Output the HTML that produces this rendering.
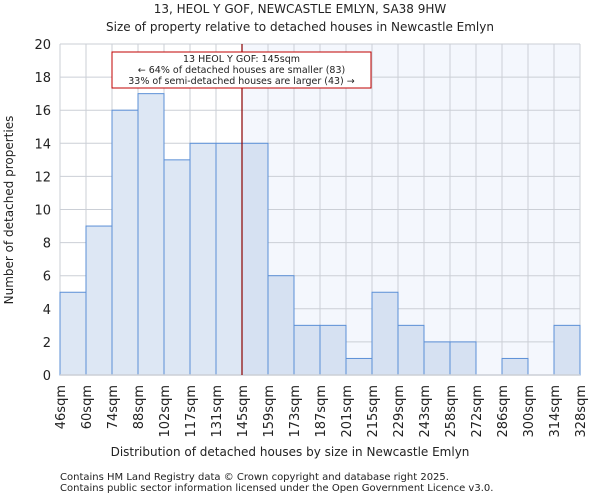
<!DOCTYPE html>
<html><head><meta charset="utf-8"><style>
body{margin:0;background:#fff;font-family:"DejaVu Sans","Liberation Sans",sans-serif;}
svg text{font-family:"DejaVu Sans","Liberation Sans",sans-serif;fill:#222;}
</style></head><body>
<svg id="chart" width="600" height="500" xmlns="http://www.w3.org/2000/svg">
<text x="300" y="13" text-anchor="middle" font-size="12">13, HEOL Y GOF, NEWCASTLE EMLYN, SA38 9HW</text>
<text x="300" y="31" text-anchor="middle" font-size="12">Size of property relative to detached houses in Newcastle Emlyn</text>
<g id="plot"></g>
<text x="290" y="456" text-anchor="middle" font-size="12">Distribution of detached houses by size in Newcastle Emlyn</text>
<text transform="translate(13,210) rotate(-90)" text-anchor="middle" font-size="12">Number of detached properties</text>
<text x="60" y="480" font-size="10" fill="#444">Contains HM Land Registry data © Crown copyright and database right 2025.</text>
<text x="60" y="491" font-size="10" fill="#444">Contains public sector information licensed under the Open Government Licence v3.0.</text>
</svg>
<script>
const categories=["46sqm","60sqm","74sqm","88sqm","102sqm","117sqm","131sqm","145sqm","159sqm","173sqm","187sqm","201sqm","215sqm","229sqm","243sqm","258sqm","272sqm","286sqm","300sqm","314sqm","328sqm"];
const counts=[5,9,16,17,13,14,14,14,6,3,3,1,5,3,2,2,0,1,0,3];
const yTicks=[0,2,4,6,8,10,12,14,16,18,20];
const markerIndex=7;
const annotationLines=["13 HEOL Y GOF: 145sqm","← 64% of detached houses are smaller (83)","33% of semi-detached houses are larger (43) →"];
const L=60,R=580,T=44,B=375,yMax=20;
const nb=counts.length;
const x=i=>L+(R-L)*i/nb;
const y=v=>B-(B-T)*v/yMax;
const g=document.getElementById('plot');
const NS="http://www.w3.org/2000/svg";
function mk(t,a){const e=document.createElementNS(NS,t);for(const k in a)e.setAttribute(k,a[k]);g.appendChild(e);return e;}
let e=mk('rect',{x:x(markerIndex),y:T,width:R-x(markerIndex),height:B-T,fill:'#f4f7fd'});


yTicks.forEach(v=>{
 let l=mk('line',{x1:L,x2:R,y1:y(v),y2:y(v),stroke:'#cbcfd6','stroke-width':1});
 
 
 let t=mk('text',{x:L-9,y:y(v)+5,'text-anchor':'end','font-size':13});
 t.textContent=v;
 
 
});
categories.forEach((c,i)=>{
 let l=mk('line',{x1:x(i),x2:x(i),y1:T,y2:B,stroke:'#cbcfd6','stroke-width':1});
 
 
 let t=mk('text',{transform:`translate(${x(i)+5},${B+10}) rotate(-90)`,'text-anchor':'end','font-size':13});
 t.textContent=c;
 
 
});
counts.forEach((v,i)=>{
 if(v<=0)return;
 let r=mk('rect',{x:x(i),y:y(v),width:x(i+1)-x(i),height:B-y(v),fill:i<markerIndex?'#dde7f4':'#d6e1f2',stroke:'#5b8fd6','stroke-width':1});
 
 
});
let ax=mk('line',{x1:L,x2:R,y1:B,y2:B,stroke:'#cbcfd6','stroke-width':1.5});


let m=mk('line',{x1:x(markerIndex),x2:x(markerIndex),y1:T,y2:B,stroke:'#8b0000','stroke-width':1.2});


let box=mk('rect',{x:112,y:52,width:259,height:36,fill:'#fff',stroke:'#c00000','stroke-width':1});


annotationLines.forEach((s,i)=>{
 let t=mk('text',{x:241.5,y:62+i*11,'text-anchor':'middle','font-size':9.5});
 t.textContent=s;
 
 
});
</script>
</body></html>
